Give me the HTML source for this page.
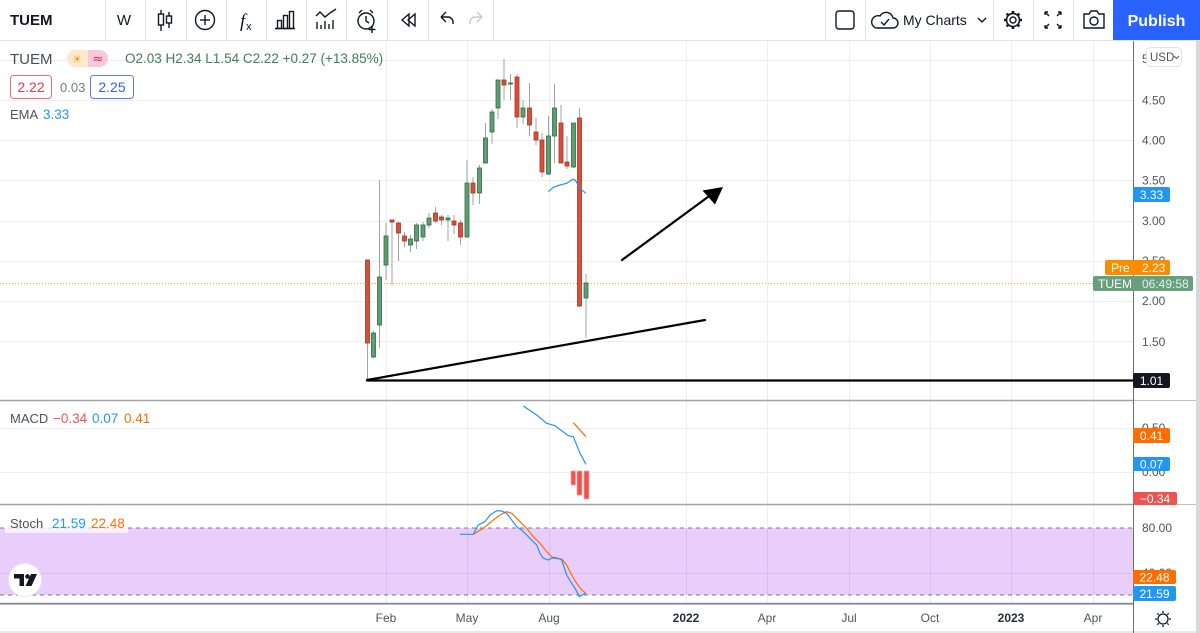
<!DOCTYPE html>
<html><head><meta charset="utf-8">
<style>
html,body{margin:0;padding:0;width:1200px;height:633px;overflow:hidden;background:#fff;}
svg{display:block;font-family:"Liberation Sans",sans-serif;}
</style></head><body>
<svg width="1200" height="633" viewBox="0 0 1200 633" xmlns="http://www.w3.org/2000/svg">
<rect x="0" y="0" width="1200" height="633" fill="#fff"/>

<!-- ===== TOOLBAR ===== -->
<g stroke="#e0e3eb" stroke-width="1">
<line x1="0" y1="40.5" x2="1200" y2="40.5"/>
<line x1="105.5" y1="0" x2="105.5" y2="40"/><line x1="145.5" y1="0" x2="145.5" y2="40"/>
<line x1="186.5" y1="0" x2="186.5" y2="40"/><line x1="226.5" y1="0" x2="226.5" y2="40"/>
<line x1="266.5" y1="0" x2="266.5" y2="40"/><line x1="306.5" y1="0" x2="306.5" y2="40"/>
<line x1="346.5" y1="0" x2="346.5" y2="40"/><line x1="387.5" y1="0" x2="387.5" y2="40"/>
<line x1="428.5" y1="0" x2="428.5" y2="40"/><line x1="493.5" y1="0" x2="493.5" y2="40"/>
<line x1="825.5" y1="0" x2="825.5" y2="40"/><line x1="865.5" y1="0" x2="865.5" y2="40"/>
<line x1="993.5" y1="0" x2="993.5" y2="40"/><line x1="1033.5" y1="0" x2="1033.5" y2="40"/>
<line x1="1073.5" y1="0" x2="1073.5" y2="40"/>
</g>
<text x="10" y="25" font-size="15" font-weight="bold" fill="#131722">TUEM</text>
<text x="124" y="25" font-size="15" fill="#131722" text-anchor="middle">W</text>
<g stroke="#131722" stroke-width="1.4" fill="none">
<line x1="161" y1="10" x2="161" y2="31"/><rect x="158.5" y="14" width="5" height="11" fill="#fff"/>
<line x1="169" y1="12" x2="169" y2="28"/><rect x="166.5" y="16" width="5" height="7" fill="#fff"/>
<circle cx="205" cy="20" r="9.5"/><line x1="200" y1="20" x2="210" y2="20"/><line x1="205" y1="15" x2="205" y2="25"/>
<rect x="277.5" y="20.5" width="4" height="8"/><rect x="283.5" y="15.5" width="4" height="13"/><rect x="289.5" y="11.5" width="4" height="17"/>
<line x1="275" y1="28.5" x2="295" y2="28.5"/>
<polyline points="316,16 320,12 325,17 330,13 336,9"/>
<line x1="317" y1="22" x2="317" y2="29"/><line x1="321" y1="25" x2="321" y2="29"/><line x1="325" y1="21" x2="325" y2="29"/><line x1="329" y1="24" x2="329" y2="29"/><line x1="333" y1="20" x2="333" y2="29"/>
<circle cx="366" cy="21" r="8"/><path d="M359 13 l3 -3 M373 13 l-3 -3"/><polyline points="366,16 366,21 369,23"/>
<line x1="372" y1="26" x2="372" y2="33"/><line x1="368.5" y1="29.5" x2="375.5" y2="29.5"/>
<polygon points="402,20 409,14 409,26"/><polygon points="408,20 415,14 415,26"/>
<path d="M441 17 L446 12 M441 17 L446 22 M441 17 H448 a5 5 0 0 1 5 5 v2"/>
</g>
<path d="M482 17 L477 12 M482 17 L477 22 M482 17 H475 a5 5 0 0 0 -5 5 v2" stroke="#c8cad0" stroke-width="1.4" fill="none"/>
<text x="240" y="27" font-size="19" font-style="italic" font-family="Liberation Serif,serif" fill="#131722">f</text>
<text x="246" y="30" font-size="11" fill="#131722">x</text>

<g stroke="#131722" stroke-width="1.4" fill="none">
<rect x="836" y="11" width="18" height="18" rx="3"/>
<path d="M876 28 h17 a5 5 0 0 0 0 -10 a7 7 0 0 0 -13 -2 a6 6 0 0 0 -4 12 z"/>
<polyline points="881,22 884,25 889,19"/>
<polyline points="978,18 982,22 986,18"/>
<circle cx="1013" cy="20" r="3"/>
<circle cx="1013" cy="20" r="6.5"/>
<path d="M1013 11 v2.5 M1013 26.5 v2.5 M1004 20 h2.5 M1019.5 20 h2.5 M1006.6 13.6 l1.8 1.8 M1017.6 24.6 l1.8 1.8 M1006.6 26.4 l1.8 -1.8 M1017.6 15.4 l1.8 -1.8" stroke-width="2.6"/>
<path d="M1045 12 l4 4 M1045 12 v3 M1045 12 h3 M1061 12 l-4 4 M1061 12 v3 M1061 12 h-3 M1045 28 l4 -4 M1045 28 v-3 M1045 28 h3 M1061 28 l-4 -4 M1061 28 v-3 M1061 28 h-3"/>
<path d="M1084 14 h5 l2 -3 h6 l2 3 h5 v14 h-20 z"/>
<circle cx="1094" cy="21" r="4"/>
</g>
<circle cx="1013" cy="20" r="5.2" fill="#fff"/>
<circle cx="1013" cy="20" r="6.5" fill="none" stroke="#131722" stroke-width="1.4"/>
<circle cx="1013" cy="20" r="3" fill="none" stroke="#131722" stroke-width="1.4"/>
<text x="903" y="25" font-size="14" fill="#131722">My Charts</text>
<rect x="1113" y="0" width="87" height="40" fill="#2962ff"/>
<text x="1156.5" y="26" font-size="16" font-weight="bold" fill="#fff" text-anchor="middle">Publish</text>

<rect x="1196" y="41" width="4" height="592" fill="#d6d8de"/>
<rect x="0" y="631" width="1196" height="2" fill="#e6e8ec"/>

<!-- ===== GRID ===== -->
<g stroke="#eceef2" stroke-width="1">
<line x1="0" y1="60.5" x2="1133" y2="60.5"/><line x1="0" y1="100.5" x2="1133" y2="100.5"/>
<line x1="0" y1="140.5" x2="1133" y2="140.5"/><line x1="0" y1="180.5" x2="1133" y2="180.5"/>
<line x1="0" y1="221.5" x2="1133" y2="221.5"/><line x1="0" y1="261.5" x2="1133" y2="261.5"/>
<line x1="0" y1="301.5" x2="1133" y2="301.5"/><line x1="0" y1="341.5" x2="1133" y2="341.5"/>
<line x1="0" y1="428.5" x2="1133" y2="428.5"/><line x1="0" y1="472.5" x2="1133" y2="472.5"/>
<line x1="386.5" y1="41" x2="386.5" y2="604"/><line x1="467.5" y1="41" x2="467.5" y2="604"/>
<line x1="549.5" y1="41" x2="549.5" y2="604"/><line x1="686.5" y1="41" x2="686.5" y2="604"/>
<line x1="767.5" y1="41" x2="767.5" y2="604"/><line x1="849.5" y1="41" x2="849.5" y2="604"/>
<line x1="930.5" y1="41" x2="930.5" y2="604"/><line x1="1011.5" y1="41" x2="1011.5" y2="604"/>
<line x1="1093.5" y1="41" x2="1093.5" y2="604"/>
</g>

<rect x="0" y="528" width="1133" height="67" fill="#e9cdfb"/>
<g stroke="#dcbcf0" stroke-width="1">
<line x1="0" y1="573.5" x2="1133" y2="573.5"/>
<line x1="386.5" y1="528" x2="386.5" y2="595"/><line x1="467.5" y1="528" x2="467.5" y2="595"/>
<line x1="549.5" y1="528" x2="549.5" y2="595"/><line x1="686.5" y1="528" x2="686.5" y2="595"/>
<line x1="767.5" y1="528" x2="767.5" y2="595"/><line x1="849.5" y1="528" x2="849.5" y2="595"/>
<line x1="930.5" y1="528" x2="930.5" y2="595"/><line x1="1011.5" y1="528" x2="1011.5" y2="595"/>
<line x1="1093.5" y1="528" x2="1093.5" y2="595"/>
</g>
<g stroke="#787b86" stroke-width="1" stroke-dasharray="4 4">
<line x1="0" y1="528" x2="1133" y2="528"/>
<line x1="0" y1="595" x2="1133" y2="595"/>
</g>

<g stroke="#a0a3ab" stroke-width="1.5">
<line x1="0" y1="400.5" x2="1133" y2="400.5"/>
<line x1="0" y1="504.5" x2="1133" y2="504.5"/>
<line x1="0" y1="603.5" x2="1133" y2="603.5"/>
</g>
<g stroke="#bfc1c8" stroke-width="1">
<line x1="1133" y1="400.5" x2="1196" y2="400.5"/>
<line x1="1133" y1="504.5" x2="1196" y2="504.5"/>
</g>

<line x1="0" y1="283.5" x2="1133" y2="283.5" stroke="#f5a623" stroke-width="1" stroke-dasharray="1 2"/>

<!-- ===== CANDLES ===== -->
<g stroke="#a3a3a3" stroke-width="1">
<line x1="367.5" y1="260" x2="367.5" y2="381"/><line x1="373.5" y1="331" x2="373.5" y2="358"/>
<line x1="379.5" y1="180" x2="379.5" y2="348"/><line x1="386" y1="223" x2="386" y2="280"/>
<line x1="392" y1="220" x2="392" y2="285"/><line x1="398.5" y1="222" x2="398.5" y2="261"/>
<line x1="404.5" y1="232" x2="404.5" y2="247"/><line x1="410.5" y1="235" x2="410.5" y2="252"/>
<line x1="416.5" y1="223" x2="416.5" y2="249"/><line x1="423" y1="222" x2="423" y2="241"/>
<line x1="429" y1="213" x2="429" y2="228"/><line x1="435.5" y1="207" x2="435.5" y2="223"/>
<line x1="441.5" y1="215" x2="441.5" y2="225"/><line x1="448" y1="215" x2="448" y2="241"/>
<line x1="454" y1="215" x2="454" y2="234"/><line x1="460.5" y1="220" x2="460.5" y2="245"/>
<line x1="467" y1="160" x2="467" y2="238"/><line x1="473" y1="177" x2="473" y2="205"/>
<line x1="479.5" y1="165" x2="479.5" y2="204"/><line x1="485.5" y1="123" x2="485.5" y2="163"/>
<line x1="492" y1="109" x2="492" y2="144"/><line x1="498" y1="80" x2="498" y2="119"/>
<line x1="504" y1="59" x2="504" y2="100"/><line x1="510.5" y1="74" x2="510.5" y2="100"/>
<line x1="517" y1="74" x2="517" y2="128"/><line x1="523" y1="100" x2="523" y2="124"/>
<line x1="529.5" y1="83" x2="529.5" y2="136"/><line x1="536" y1="118" x2="536" y2="145"/>
<line x1="542" y1="133" x2="542" y2="177"/><line x1="548.5" y1="116" x2="548.5" y2="175"/>
<line x1="554.5" y1="84" x2="554.5" y2="163"/><line x1="561" y1="105" x2="561" y2="163"/>
<line x1="567" y1="136" x2="567" y2="169"/><line x1="573.5" y1="123" x2="573.5" y2="168"/>
<line x1="579.5" y1="108" x2="579.5" y2="307"/><line x1="586" y1="274" x2="586" y2="338"/>
</g>
<g fill="#d9503a" stroke="#a5321f" stroke-width="0.8">
<rect x="365.5" y="260" width="4" height="83"/>
<rect x="390" y="220" width="4" height="2"/>
<rect x="396.5" y="223" width="4" height="10"/>
<rect x="402.5" y="236" width="4" height="5"/>
<rect x="433.5" y="213" width="4" height="8"/>
<rect x="439.5" y="217" width="4" height="3"/>
<rect x="452" y="221" width="4" height="4"/>
<rect x="458.5" y="223" width="4" height="14"/>
<rect x="471" y="183" width="4" height="10"/>
<rect x="502" y="80" width="4" height="5"/>
<rect x="515" y="77" width="4" height="40"/>
<rect x="527.5" y="108" width="4" height="17"/>
<rect x="534" y="132" width="4" height="8"/>
<rect x="540" y="140" width="4" height="32"/>
<rect x="559" y="123" width="4" height="40"/>
<rect x="565" y="162" width="4" height="4"/>
<rect x="577.5" y="118" width="4" height="188"/>
</g>
<g fill="#5e9e72" stroke="#2f6a44" stroke-width="0.8">
<rect x="371.5" y="333" width="4" height="24"/>
<rect x="377.5" y="277" width="4" height="48"/>
<rect x="384" y="236" width="4" height="29"/>
<rect x="408.5" y="239" width="4" height="6"/>
<rect x="414.5" y="225" width="4" height="16"/>
<rect x="421" y="225" width="4" height="12"/>
<rect x="427" y="218" width="4" height="7"/>
<rect x="446" y="218" width="4" height="2"/>
<rect x="465" y="183" width="4" height="54"/>
<rect x="477.5" y="168" width="4" height="25"/>
<rect x="483.5" y="138" width="4" height="25"/>
<rect x="490" y="112" width="4" height="20"/>
<rect x="496" y="80" width="4" height="28"/>
<rect x="508.5" y="83" width="4" height="1"/>
<rect x="521" y="108" width="4" height="9"/>
<rect x="546.5" y="136" width="4" height="38"/>
<rect x="552.5" y="108" width="4" height="28"/>
<rect x="571.5" y="123" width="4" height="44"/>
<rect x="584" y="283" width="4" height="15"/>
</g>

<polyline points="548.3,191.7 553.3,187.3 560,185 566.7,183.3 572.7,179.3 575,180 578.3,185 581.7,190 586,193.3" fill="none" stroke="#2196f3" stroke-width="1.2"/>

<g stroke="#000" stroke-width="2.2" fill="none" stroke-linecap="round">
<line x1="367" y1="380.5" x2="1133" y2="380.5"/>
<line x1="367" y1="380" x2="705" y2="320"/>
<line x1="622" y1="260" x2="712" y2="194"/>
</g>
<polygon points="723,187 702.5,190.5 715,204.5" fill="#000"/>

<g fill="#ef5350" stroke="#f8a5a3" stroke-width="0.7">
<rect x="571" y="471" width="4.5" height="14"/>
<rect x="577" y="471" width="5" height="24"/>
<rect x="584" y="471" width="5" height="28"/>
</g>
<polyline points="523.3,406 536.7,415 546.7,423.3 555,425.7 568.3,435.7 573.3,436.7 580,453.3 586,464.3" fill="none" stroke="#2196f3" stroke-width="1.2"/>
<polyline points="573.3,422.7 586,436.7" fill="none" stroke="#ff6d00" stroke-width="1.2"/>

<polyline points="473.3,534.3 483.3,528.3 493.3,520 500,515 506.7,511.7 511.7,513.3 520,521.7 526.7,528.3 533.3,536.7 540,543.3 546.7,551.7 553.3,558.3 561.7,559 566.7,565 571.7,575 576.7,583.3 581.7,590 586,593.3" fill="none" stroke="#ff6d00" stroke-width="1.2"/>
<polyline points="460,534.3 473.3,534.3 478.3,525 485,521.7 490,515 496.7,510.7 501.7,511 506.7,513.3 511.7,520 516.7,526.7 521.7,530 526.7,535 533.3,541.7 536.7,545 540,553.3 543.3,558.3 548.3,560 553.3,557.3 558.3,558.3 561.7,560 566.7,575 571.7,583.3 575,588.3 579.3,596.7 583.3,594.3 586,593.3" fill="none" stroke="#2196f3" stroke-width="1.2"/>

<!-- ===== LEGENDS ===== -->
<text x="10" y="64" font-size="15" fill="#4a4d57">TUEM</text>
<rect x="67" y="50" width="41" height="17" rx="8.5" fill="#f9c9da"/>
<path d="M75.5 50 h12.5 v17 h-12.5 a8.5 8.5 0 0 1 0 -17 z" fill="#fde9d0"/>
<text x="77" y="63" font-size="11" fill="#ff9800" text-anchor="middle" font-family="DejaVu Sans,sans-serif">☀</text>
<text x="98" y="63" font-size="13" fill="#e91e63" text-anchor="middle" font-family="DejaVu Sans,sans-serif">≈</text>
<text x="125" y="63" font-size="13.5" fill="#3f7e5a">O2.03 H2.34 L1.54 C2.22 +0.27 (+13.85%)</text>

<rect x="10.5" y="75.5" width="41" height="23" rx="3" fill="#fff" stroke="#f26b70"/>
<text x="31" y="92" font-size="14" fill="#f23645" text-anchor="middle">2.22</text>
<text x="60" y="92" font-size="13" fill="#787b86">0.03</text>
<rect x="90.5" y="75.5" width="43" height="23" rx="3" fill="#fff" stroke="#5b7ff0"/>
<text x="112" y="92" font-size="14" fill="#2962ff" text-anchor="middle">2.25</text>

<text x="10" y="119" font-size="13" fill="#50535e">EMA</text>
<text x="43" y="119" font-size="13.5" fill="#2196f3">3.33</text>

<rect x="5" y="410" width="150" height="18" fill="#fff" opacity="0.85"/>
<text x="10" y="423" font-size="13" fill="#50535e">MACD</text>
<text x="53" y="423" font-size="13.5" fill="#ef5350">−0.34</text>
<text x="92" y="423" font-size="13.5" fill="#2196f3">0.07</text>
<text x="124" y="423" font-size="13.5" fill="#ff6d00">0.41</text>

<rect x="5" y="513" width="123" height="20" fill="#fff" opacity="0.7"/>
<text x="10" y="528" font-size="13" fill="#50535e">Stoch</text>
<text x="52" y="528" font-size="13.5" fill="#2196f3">21.59</text>
<text x="91" y="528" font-size="13.5" fill="#ff6d00">22.48</text>

<circle cx="25" cy="580" r="16.5" fill="#fff" stroke="#e6e8ee" stroke-width="1"/>
<path d="M14 574 H24 V586 H19.5 V578.5 H14 Z" fill="#131722"/>
<circle cx="27.5" cy="576.5" r="2.3" fill="#131722"/>
<path d="M31 574 H37 L31.5 586 H25.5 Z" fill="#131722"/>

<!-- ===== RIGHT AXIS ===== -->
<line x1="1133.5" y1="41" x2="1133.5" y2="633" stroke="#6a6d78" stroke-width="1"/>
<line x1="0" y1="604" x2="1133" y2="604" stroke="#6a6d78" stroke-width="1"/>
<g font-size="12" fill="#50535e">
<text x="1142" y="63">5.00</text>
<text x="1142" y="104.5">4.50</text>
<text x="1142" y="144.5">4.00</text>
<text x="1142" y="184.5">3.50</text>
<text x="1142" y="225">3.00</text>
<text x="1142" y="265">2.50</text>
<text x="1142" y="305">2.00</text>
<text x="1142" y="346">1.50</text>
<text x="1142" y="432">0.50</text>
<text x="1142" y="476">0.00</text>
<text x="1142" y="532">80.00</text>
<text x="1142" y="577">40.00</text>
</g>
<rect x="1146.5" y="47.5" width="35" height="19" rx="4" fill="#fff" stroke="#e0e3eb"/>
<text x="1150" y="61" font-size="11.5" fill="#50535e">USD</text>
<polyline points="1174,56 1176.5,58.5 1179,56" fill="none" stroke="#50535e" stroke-width="1"/>

<g font-size="12" fill="#fff">
<rect x="1133" y="187" width="37" height="15" rx="2" fill="#2196f3"/>
<text x="1151.5" y="199" text-anchor="middle">3.33</text>
<rect x="1105" y="260" width="65" height="15" rx="2" fill="#fb8c00"/>
<text x="1111" y="272">Pre</text>
<text x="1142" y="272">2.23</text>
<rect x="1093" y="276" width="100" height="15" rx="2" fill="#66a07c"/>
<text x="1098" y="288">TUEM</text>
<text x="1142" y="288" fill="#e3f1e8">06:49:58</text>
<rect x="1133" y="373" width="37" height="15" rx="2" fill="#131722"/>
<text x="1151.5" y="385" text-anchor="middle">1.01</text>
<rect x="1133" y="428" width="37" height="15" rx="2" fill="#ff6d00"/>
<text x="1151.5" y="440" text-anchor="middle">0.41</text>
<rect x="1133" y="457" width="37" height="14" rx="2" fill="#2196f3"/>
<text x="1151.5" y="468.5" text-anchor="middle">0.07</text>
<rect x="1133" y="492" width="44" height="13" rx="2" fill="#ef5350"/>
<text x="1155" y="503" text-anchor="middle">−0.34</text>
<rect x="1133" y="570" width="43" height="14" rx="2" fill="#ff6d00"/>
<text x="1154.5" y="581.5" text-anchor="middle">22.48</text>
<rect x="1133" y="586" width="43" height="15" rx="2" fill="#2196f3"/>
<text x="1154.5" y="598" text-anchor="middle">21.59</text>
</g>

<!-- ===== TIME AXIS ===== -->
<g font-size="12" fill="#50535e" text-anchor="middle">
<text x="386" y="622">Feb</text>
<text x="467" y="622">May</text>
<text x="549" y="622">Aug</text>
<text x="686" y="622" font-weight="bold" fill="#2a2e39">2022</text>
<text x="767" y="622">Apr</text>
<text x="849" y="622">Jul</text>
<text x="930" y="622">Oct</text>
<text x="1011" y="622" font-weight="bold" fill="#2a2e39">2023</text>
<text x="1093" y="622">Apr</text>
</g>
<g stroke="#131722" stroke-width="1.3" fill="none">
<circle cx="1163" cy="619" r="5"/>
<path d="M1163 611 v2 M1163 625 v2 M1155 619 h2 M1169 619 h2 M1157.3 613.3 l1.4 1.4 M1167.3 623.3 l1.4 1.4 M1157.3 624.7 l1.4 -1.4 M1167.3 614.7 l1.4 -1.4"/>
</g>
</svg>
</body></html>
